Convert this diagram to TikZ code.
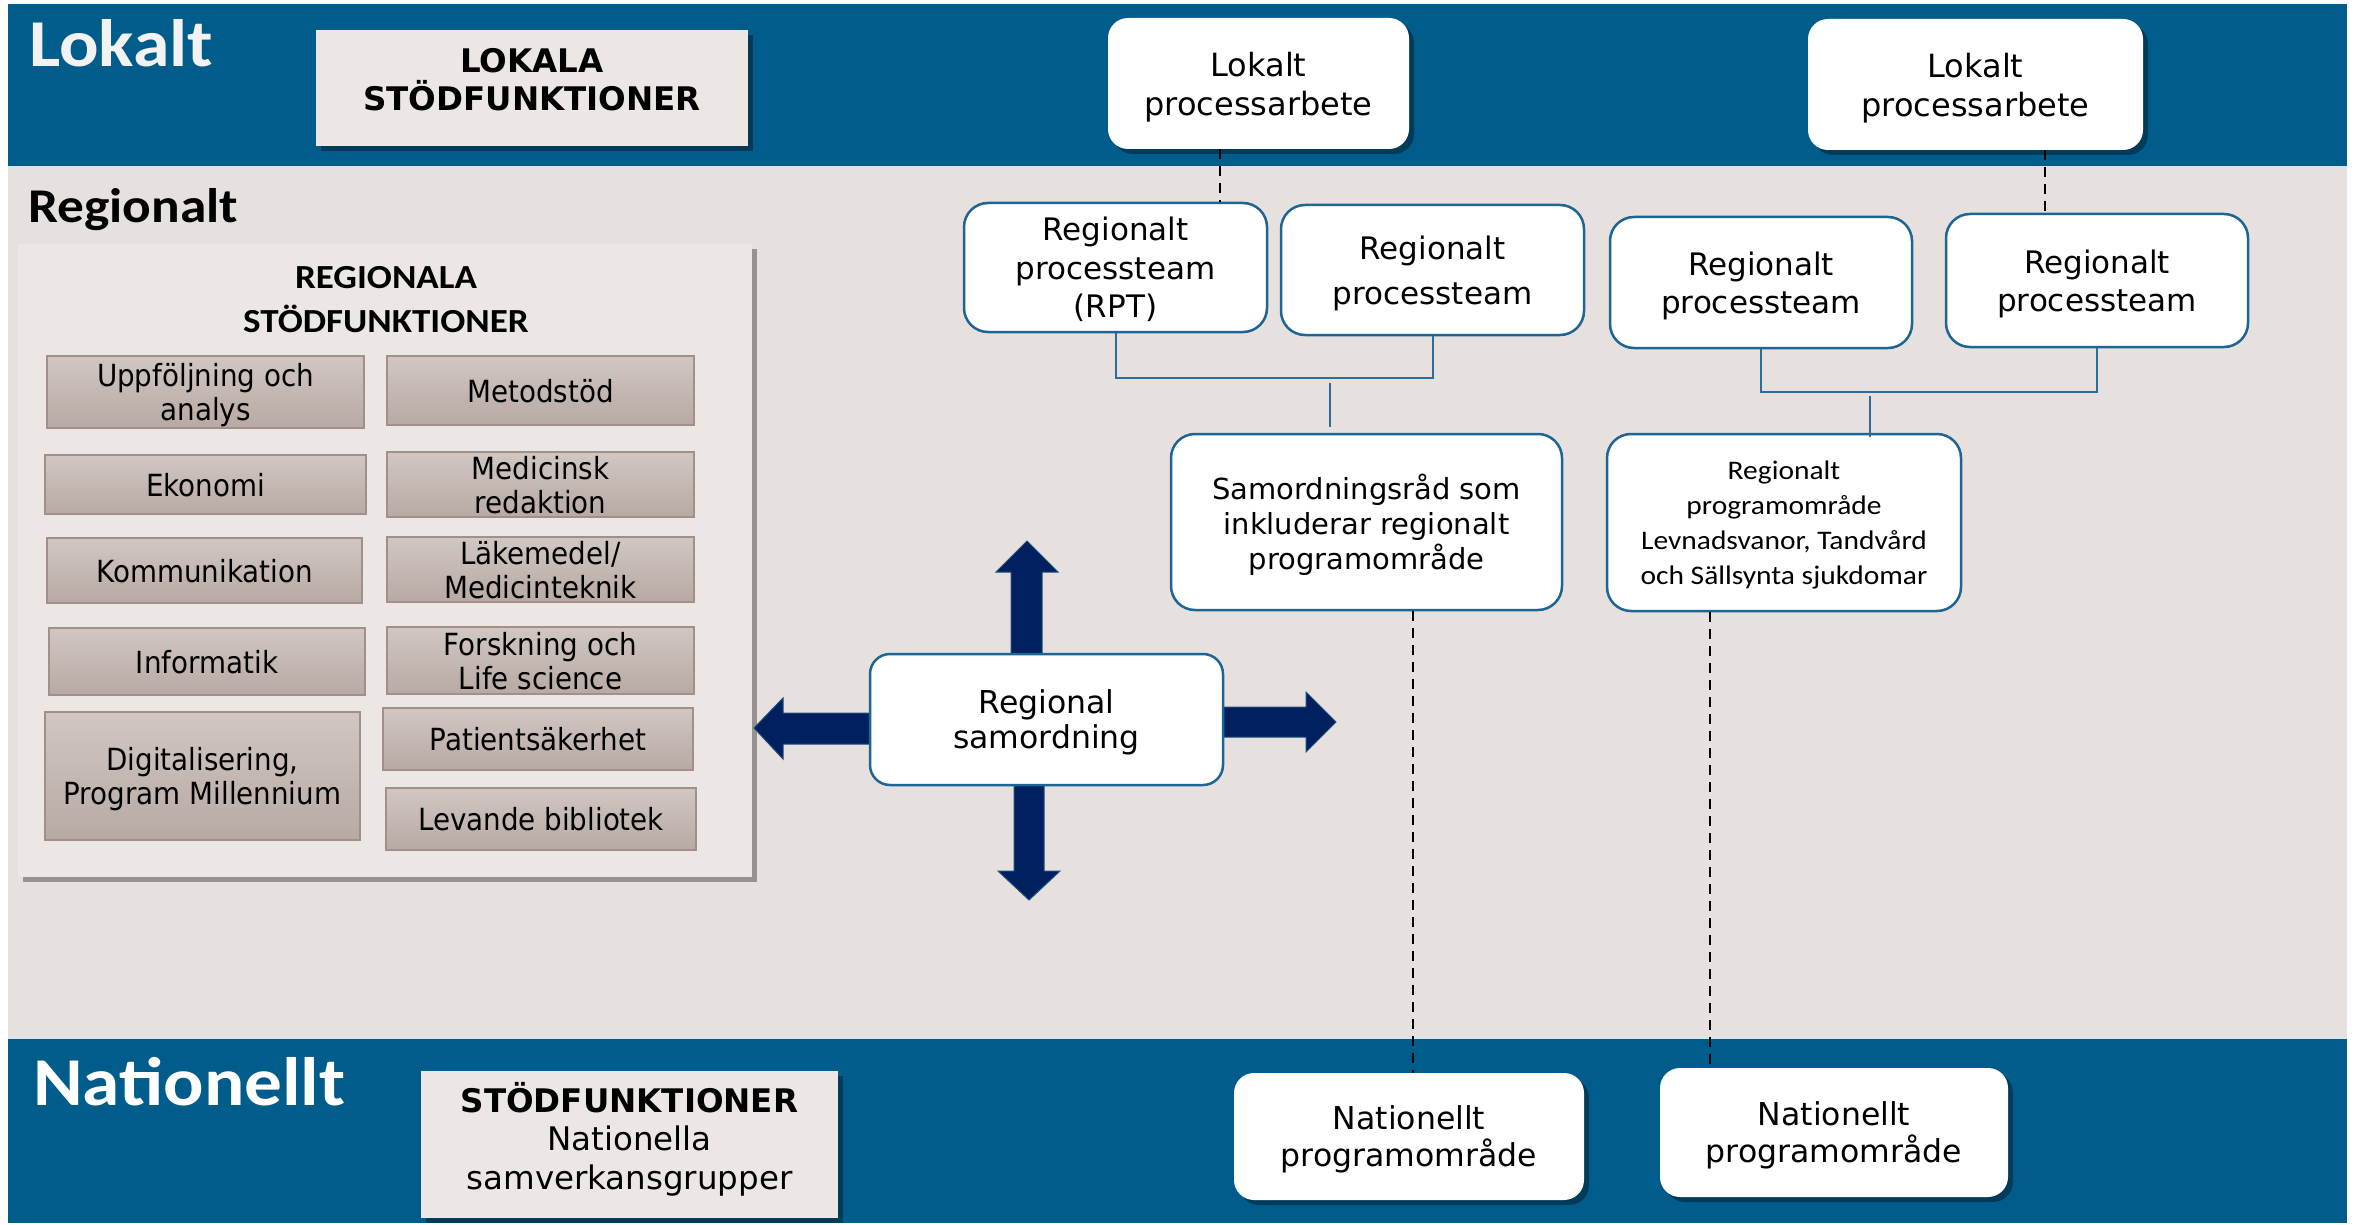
\documentclass[tikz,border=0pt]{standalone}
\usepackage{fontspec}
\setmainfont{DejaVu Sans}
\newfontfamily\tahfam{DejaVu Sans}[FakeStretch=0.91]
\newfontfamily\calfam{Carlito}[FakeStretch=1.1]
\usetikzlibrary{shadows}
\definecolor{bandblue}{HTML}{005C8A}
\definecolor{regbg}{HTML}{E6E1DF}
\definecolor{boxbg}{HTML}{ECE7E5}
\definecolor{navy}{HTML}{002060}
\definecolor{navyedge}{HTML}{1F4E79}
\definecolor{rbord}{HTML}{1E6594}
\definecolor{conn}{HTML}{2C6E9A}
\definecolor{suptop}{HTML}{D0C7C3}
\definecolor{supbot}{HTML}{B8A9A3}
\definecolor{supedge}{HTML}{A19089}
\newcommand\fsz[2]{\fontsize{#1}{#2}\selectfont}
\begin{document}
\begin{tikzpicture}[x=1pt,y=-1pt,
  shad/.style={drop shadow={shadow xshift=5pt,shadow yshift=-5pt,opacity=0.35,fill=black}},
  lightbox/.style={fill=boxbg,inner sep=0pt,shad},
  whitebox/.style={fill=white,rounded corners=20pt,inner sep=0pt,align=center,text depth=0pt,shad},
  regbox/.style={fill=white,draw=rbord,line width=2.5pt,rounded corners=24pt,inner sep=0pt,align=center,text depth=0pt},
  supbox/.style={top color=suptop,bottom color=supbot,draw=supedge,line width=1.5pt,inner sep=0pt,align=center,text depth=0pt,font=\tahfam\fsz{30.5}{34}},
  bandlabel/.style={anchor=base west,inner sep=0pt},
  conline/.style={draw=conn,line width=2pt},
  dashline/.style={draw=black,line width=2pt,dash pattern=on 10pt off 7pt},
  bigarrow/.style={fill=navy,draw=navyedge,line width=1pt}]
\useasboundingbox (0,0) rectangle (2359,1225);
\fill[white] (0,0) rectangle (2359,1225);
% bands
\fill[bandblue] (8,4) rectangle (2347,167);
\fill[regbg] (8,167) rectangle (2347,1038);
\fill[bandblue] (8,1038) rectangle (2347,1223);
\draw[white!85!bandblue,line width=1.2pt] (8,167) -- (2347,167);
\draw[white!85!bandblue,line width=1.2pt] (8,1038) -- (2347,1038);
% band labels
\node[bandlabel,text=white!95!black,font=\calfam\bfseries\fsz{67}{70}] (lLok) at (29,67) {Lokalt};
\node[bandlabel,text=black,font=\calfam\bfseries\fsz{48.5}{50}] (lReg) at (28,223) {Regionalt};
\node[bandlabel,text=white,font=\calfam\bfseries\fsz{68.5}{70}] (lNat) at (33,1105) {Nationellt};
% local support box
\node[lightbox,minimum width=432pt,minimum height=116pt] (lokala) at (532,88) {};
\node[align=center,inner sep=0pt,font=\bfseries\fsz{32.5}{38}] (lokalaT) at (532,80) {LOKALA\\STÖDFUNKTIONER};
% regional support box
\node[lightbox,minimum width=734pt,minimum height=633pt] (regsup) at (385,560.5) {};
\node[align=center,inner sep=0pt,font=\calfam\bfseries\fsz{33.7}{44}] (regsupT) at (386,300) {REGIONALA\\STÖDFUNKTIONER};
\node[supbox,minimum width=317pt,minimum height=72pt] (s1) at (205.5,392) {Uppföljning och\\analys};
\node[supbox,minimum width=321pt,minimum height=59pt] (s2) at (205.5,484.5) {Ekonomi};
\node[supbox,minimum width=315pt,minimum height=65pt] (s3) at (204.5,570.5) {Kommunikation};
\node[supbox,minimum width=316pt,minimum height=67pt] (s4) at (207,661.5) {Informatik};
\node[supbox,minimum width=315pt,minimum height=128pt] (s5) at (202.5,776) {Digitalisering,\\Program Millennium};
\node[supbox,minimum width=307pt,minimum height=69pt] (s6) at (540.5,390.5) {Metodstöd};
\node[supbox,minimum width=307pt,minimum height=65pt] (s7) at (540.5,484.5) {Medicinsk\\redaktion};
\node[supbox,minimum width=307pt,minimum height=65pt] (s8) at (540.5,569.5) {Läkemedel/\\Medicinteknik};
\node[supbox,minimum width=307pt,minimum height=67pt] (s9) at (540.5,660.5) {Forskning och\\Life science};
\node[supbox,minimum width=310pt,minimum height=62pt] (s10) at (538,739) {Patientsäkerhet};
\node[supbox,minimum width=310pt,minimum height=62pt] (s11) at (541,819) {Levande bibliotek};
% arrows around regional samordning
\draw[bigarrow] (1011,660) -- (1011,572) -- (996,572) -- (1027,541) -- (1058,572) -- (1042,572) -- (1042,660) -- cycle;
\draw[bigarrow] (1014,780) -- (1014,871) -- (998,871) -- (1029,900) -- (1060,871) -- (1044,871) -- (1044,780) -- cycle;
\draw[bigarrow] (875,713) -- (783,713) -- (783,698) -- (754,728) -- (783,759) -- (783,744) -- (875,744) -- cycle;
\draw[bigarrow] (1218,707) -- (1306,707) -- (1306,692) -- (1336,722) -- (1306,752) -- (1306,737) -- (1218,737) -- cycle;
\node[regbox,rounded corners=20pt,minimum width=353pt,minimum height=131pt,font=\fsz{31.5}{35}] (rs) at (1046.5,719.5) {Regional\\samordning};
% local process boxes
\node[whitebox,minimum width=301pt,minimum height=131pt,font=\fsz{32}{39}] (lok1) at (1258.5,83.5) {Lokalt\\processarbete};
\node[whitebox,minimum width=335pt,minimum height=131pt,font=\fsz{32}{39}] (lok2) at (1975.5,84.5) {Lokalt\\processarbete};
% regional process teams
\node[regbox,minimum width=303pt,minimum height=129pt,font=\fsz{31}{38.5}] (rpt) at (1115.5,267.5) {Regionalt\\processteam\\(RPT)};
\node[regbox,minimum width=303pt,minimum height=130pt,font=\fsz{31}{45}] (rp2) at (1432.5,270) {Regionalt\\processteam};
\node[regbox,minimum width=302pt,minimum height=131pt,font=\fsz{31}{38}] (rp3) at (1761,282.5) {Regionalt\\processteam};
\node[regbox,minimum width=302pt,minimum height=133pt,font=\fsz{31}{38}] (rp4) at (2097,280.5) {Regionalt\\processteam};
\node[regbox,minimum width=391pt,minimum height=176pt,font=\fsz{29}{35}] (sam) at (1366.5,522) {Samordningsråd som\\inkluderar regionalt\\programområde};
\node[regbox,minimum width=354pt,minimum height=177pt,font=\calfam\fsz{26.8}{35}] (rpa) at (1784,522.5) {Regionalt\\programområde\\Levnadsvanor, Tandvård\\och Sällsynta sjukdomar};
% national
\node[lightbox,minimum width=417pt,minimum height=147pt] (natsup) at (629.5,1144.5) {};
\node[align=center,inner sep=0pt,font=\fsz{32.5}{38.5}] (natsupT) at (629.5,1139) {\textbf{STÖDFUNKTIONER}\\Nationella\\samverkansgrupper};
\node[whitebox,minimum width=350pt,minimum height=127pt,font=\fsz{31.5}{37}] (nat1) at (1409,1136.5) {Nationellt\\programområde};
\node[whitebox,minimum width=348pt,minimum height=129pt,font=\fsz{31.5}{37}] (nat2) at (1834,1132.5) {Nationellt\\programområde};
% brackets
\coordinate (b1) at (1330,378);
\coordinate (b2) at (1870,392);
\draw[conline] (rpt.south) |- (b1) -| (rp2.south);
\draw[conline] (rp3.south) |- (b2) -| (rp4.south);
\coordinate (st1a) at (1330,383);
\coordinate (st1b) at (1330,427);
\coordinate (st2a) at (1870,396);
\coordinate (st2b) at (1870,437);
\draw[conline] (st1a) -- (st1b);
\draw[conline] (st2a) -- (st2b);
% dashed links
\coordinate (d1) at (1220,0);
\coordinate (d2) at (2045,0);
\coordinate (d3) at (1413,0);
\coordinate (d4) at (1710,0);
\draw[dashline] (lok1.south -| d1) -- (rpt.north -| d1);
\draw[dashline] (lok2.south -| d2) -- (rp4.north -| d2);
\draw[dashline] (sam.south -| d3) -- (nat1.north -| d3);
\draw[dashline] (rpa.south -| d4) -- (nat2.north -| d4);
\end{tikzpicture}
\end{document}
